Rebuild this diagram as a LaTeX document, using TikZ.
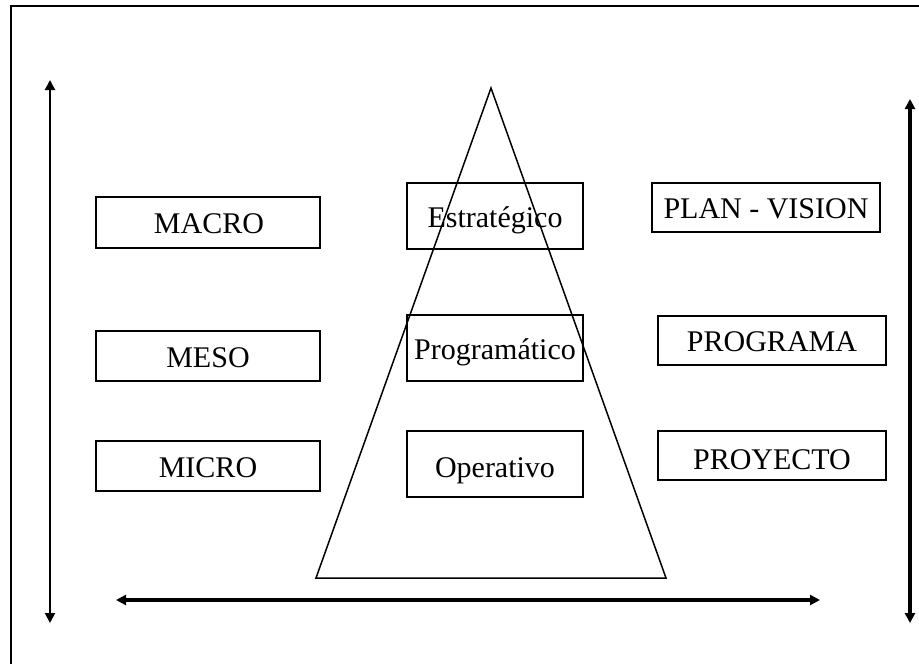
\documentclass[tikz,border=0pt]{standalone}
\usepackage{fontspec}
\setmainfont{Liberation Serif}
\usetikzlibrary{arrows.meta}
\begin{document}
\begin{tikzpicture}[x=1pt,y=-1pt,
  levelbox/.style={draw,line width=1.6pt},
  boxlabel/.style={inner sep=0pt,text height=20pt,text depth=0pt,
    font=\fontsize{30}{31}\selectfont},
  axis/.style={line width=#1,{Triangle[length=10pt,width=10pt]}-{Triangle[length=10pt,width=10pt]}},
  axis/.default=2pt]
\useasboundingbox (0,0) rectangle (919,664);
\clip (0,0) rectangle (919,664);
% outer frame (runs past the page on the right and bottom)
\draw[line width=1.8pt] (11,6) rectangle (940,690);

% pyramid
\coordinate (apex) at (491,88);
\coordinate (bl) at (316,578);
\coordinate (br) at (666,578);
\draw[line width=1.5pt,line join=miter] (apex) -- (br) -- (bl) -- cycle;

% scale column
\draw[levelbox] (96,197) rectangle (320,248);
\node[boxlabel] (macro) at (209,223) {MACRO};
\draw[levelbox] (96,331) rectangle (320,381);
\node[boxlabel] (meso) at (208,357) {MESO};
\draw[levelbox] (96,441) rectangle (320,491);
\node[boxlabel] (micro) at (208,467) {MICRO};

% planning levels inside the pyramid
\draw[levelbox] (407,183) rectangle (583,249);
\node[boxlabel] (estr) at (495,217) {Estratégico};
\draw[levelbox] (407,315) rectangle (583,381);
\node[boxlabel] (prog) at (495,349) {Programático};
\draw[levelbox] (407,431) rectangle (583,497);
\node[boxlabel] (oper) at (495,467) {Operativo};

% instruments
\draw[levelbox] (652,183) rectangle (880,232);
\node[boxlabel] (plan) at (766,208) {PLAN - VISION};
\draw[levelbox] (658,316) rectangle (886,365);
\node[boxlabel] (programa) at (772,341) {PROGRAMA};
\draw[levelbox] (658,431) rectangle (886,480);
\node[boxlabel] (proyecto) at (772,459) {PROYECTO};

% axes
\coordinate (lt) at (50,80);
\coordinate (lb) at (50,623);
\draw[axis=2pt] (lt) -- (lb);
\coordinate (rt) at (910,99);
\coordinate (rb) at (910,623);
\draw[axis=3.2pt] (rt) -- (rb);
\coordinate (hl) at (116,600);
\coordinate (hr) at (820,600);
\draw[axis=3.2pt] (hl) -- (hr);
\end{tikzpicture}
\end{document}
